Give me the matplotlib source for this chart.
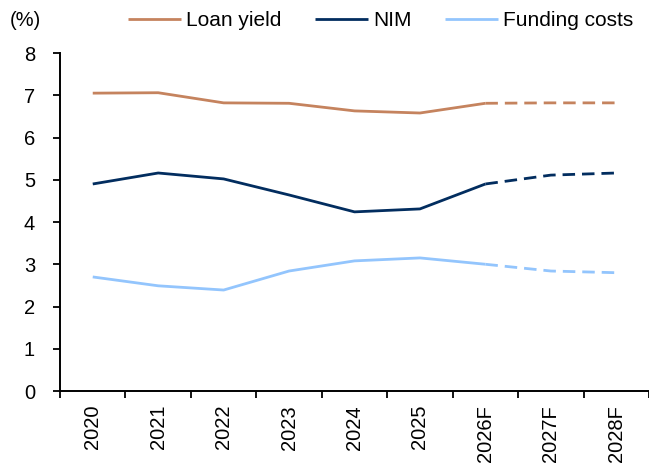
import matplotlib.pyplot as plt
import numpy as np

plt.rcParams['font.family'] = ['Liberation Sans', 'DejaVu Sans']
plt.rcParams['font.size'] = 14.5

years = ['2020', '2021', '2022', '2023', '2024', '2025', '2026F', '2027F', '2028F']
loan_yield = [7.05, 7.06, 6.82, 6.81, 6.63, 6.58, 6.81, 6.82, 6.82]
nim = [4.90, 5.16, 5.02, 4.64, 4.24, 4.31, 4.90, 5.11, 5.16]
funding_costs = [2.70, 2.49, 2.39, 2.84, 3.08, 3.15, 3.00, 2.84, 2.80]
first_forecast = 6  # index of 2026F

series = [('Loan yield', loan_yield, '#C5835E'),
          ('NIM', nim, '#022D5F'),
          ('Funding costs', funding_costs, '#93C5FD')]

fig = plt.figure(figsize=(6.49, 4.63), dpi=100)
ax = fig.add_axes([0.0925, 0.1555, 0.9075, 0.73])
x = np.arange(len(years))
for name, vals, col in series:
    ax.plot(x[:first_forecast + 1], vals[:first_forecast + 1], color=col, lw=2.0,
            label=name, solid_capstyle='butt')
    ax.plot(x[first_forecast:], vals[first_forecast:], color=col, lw=2.0,
            linestyle=(0, (4.5, 2.5)), dash_capstyle='butt')

ax.set_ylim(0, 8)
ax.set_yticks(range(0, 9))
ax.set_xlim(-0.5, len(years) - 0.5)
ax.set_xticks(np.arange(-0.5, len(years), 1.0))
ax.set_xticklabels([])
ax.set_xticks(x, minor=True)
ax.set_xticklabels(years, minor=True, rotation=90)
ax.tick_params(axis='x', which='major', direction='out', length=5, width=1.3)
ax.tick_params(axis='x', which='minor', length=0, pad=10)
ax.tick_params(axis='y', direction='out', length=5, width=1.3, pad=13)
for s in ['top', 'right']:
    ax.spines[s].set_visible(False)
for s in ['left', 'bottom']:
    ax.spines[s].set_linewidth(1.4)

fig.text(0.015, 0.955, '(%)', fontsize=14.5, va='center', ha='left')
fig.legend(loc='center left', bbox_to_anchor=(0.197, 0.955), ncol=3, frameon=False,
           fontsize=15, handlelength=2.55, handletextpad=0.25, columnspacing=1.6,
           borderaxespad=0, borderpad=0)

fig.savefig('out.png', dpi=100)
